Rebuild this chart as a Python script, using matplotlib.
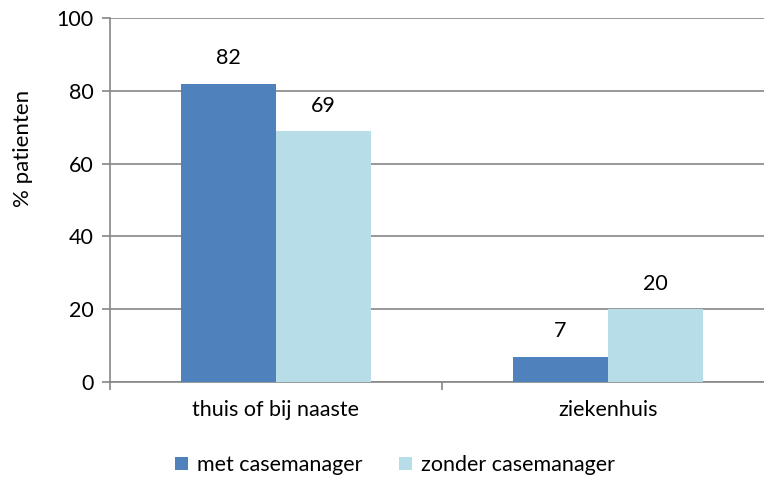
import numpy as np
import matplotlib.pyplot as plt

plt.rcParams['font.family'] = ['Lato', 'DejaVu Sans']

# data
categories = ["thuis of bij naaste", "ziekenhuis"]
met = [82, 7]
zonder = [69, 20]
series_names = ["met casemanager", "zonder casemanager"]
colors = ["#4F81BD", "#B7DEE8"]

fig = plt.figure(figsize=(7.64, 4.79), dpi=100)
ax = fig.add_axes([110/764, 1-382/479, 664/764, 364/479])

x = np.arange(len(categories))
w = 0.286
b1 = ax.bar(x - w/2, met, w, color=colors[0], label=series_names[0], zorder=3)
b2 = ax.bar(x + w/2, zonder, w, color=colors[1], label=series_names[1], zorder=3)

# value labels above the bars
for bars in (b1, b2):
    for r in bars:
        ax.annotate(f"{r.get_height():g}", (r.get_x() + r.get_width()/2, r.get_height()),
                    xytext=(0, 11), textcoords="offset points", ha="center", va="bottom",
                    fontsize=15.5, color="black")

ax.set_ylim(0, 100)
ax.set_xlim(-0.5, 1.5)
ax.set_yticks(range(0, 101, 20))
ax.yaxis.grid(True, color="#868686", linewidth=1.2, zorder=0)
ax.set_axisbelow(True)

ax.set_xticks([-0.5, 0.5, 1.5], minor=False)
ax.set_xticklabels([])
ax.set_xticks(x, minor=True)
ax.set_xticklabels(categories, minor=True, fontsize=15.5)
ax.tick_params(axis="x", which="minor", length=0, pad=13)
ax.tick_params(axis="x", which="major", length=6, color="#868686", width=1.2)
ax.tick_params(axis="y", length=6, color="#868686", width=1.2, labelsize=15.5, pad=6)

for s in ["top", "right"]:
    ax.spines[s].set_visible(False)
for s in ["left", "bottom"]:
    ax.spines[s].set_color("#868686")
    ax.spines[s].set_linewidth(1.2)

ax.set_ylabel("% patienten", fontsize=16)
ax.yaxis.set_label_coords(-0.116, 0.643)

fig.legend(loc="center", bbox_to_anchor=(395/764, 1-465/479), ncol=2, frameon=False,
           fontsize=15.5, handlelength=0.6, handleheight=0.6, columnspacing=1.7, handletextpad=0.4)

fig.savefig("out.png", dpi=100)
